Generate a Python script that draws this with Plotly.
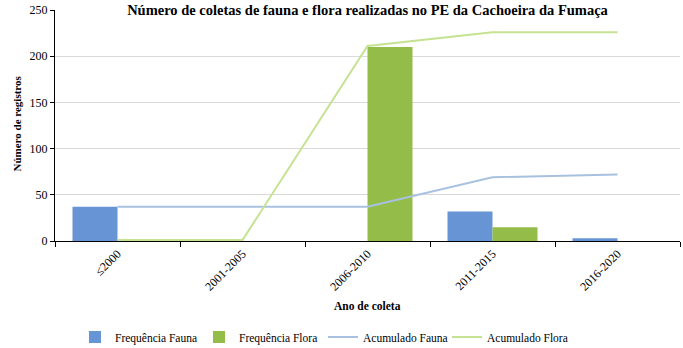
import plotly.graph_objects as go

categories = ["≤2000", "2001-2005", "2006-2010", "2011-2015", "2016-2020"]
freq_fauna = [37, 0, 0, 32, 3]
freq_flora = [1, 0, 210, 15, 0]
acum_fauna = [37, 37, 37, 69, 72]
acum_flora = [1, 1, 211, 226, 226]

FONT = "Liberation Serif, Times New Roman, serif"

fig = go.Figure()
fig.add_bar(x=categories, y=freq_fauna, name="Frequência Fauna", marker_color="#6794d4",
            marker_line_width=0)
fig.add_bar(x=categories, y=freq_flora, name="Frequência Flora", marker_color="#93bd48",
            marker_line_width=0)
fig.add_scatter(x=categories, y=acum_fauna, name="Acumulado Fauna", mode="lines",
                line=dict(color="#a9c1e0", width=2))
fig.add_scatter(x=categories, y=acum_flora, name="Acumulado Flora", mode="lines",
                line=dict(color="#c5e292", width=2))

fig.update_layout(
    width=683, height=348,
    margin=dict(l=55, r=3, t=10, b=107),
    plot_bgcolor="white", paper_bgcolor="white",
    barmode="group", bargap=0.28, bargroupgap=0,
    font=dict(family=FONT, size=12, color="black"),
    title=dict(text="<b>Número de coletas de fauna e flora realizadas no PE da Cachoeira da Fumaça</b>",
               x=0.5, xref="paper", xanchor="center", y=1 - 10 / 348, yref="container",
               yanchor="middle", font=dict(family=FONT, size=14.5, color="black")),
    legend=dict(orientation="h", x=(75 - 55) / 625, xanchor="left", xref="paper",
                y=1 - 337 / 348, yref="container", yanchor="middle",
                font=dict(family=FONT, size=11.5), traceorder="normal", entrywidth=79),
    showlegend=True,
)
fig.update_xaxes(
    type="category", showline=True, linecolor="black", linewidth=1,
    ticks="outside", tickson="boundaries", ticklen=5, tickcolor="black",
    tickangle=-45, showgrid=False, tickfont=dict(family=FONT, size=12), automargin=False,
)
fig.update_yaxes(
    range=[0, 250], dtick=50, showline=True, linecolor="black", linewidth=1,
    ticks="outside", ticklen=4, tickcolor="black",
    showgrid=True, gridcolor="#d9d9d9", gridwidth=1, zeroline=False,
    tickfont=dict(family=FONT, size=12), automargin=False,
)
fig.add_annotation(text="<b>Ano de coleta</b>", xref="paper", yref="paper", x=0.5, y=-(306 - 241) / 231,
                   showarrow=False, font=dict(family=FONT, size=11.5), yanchor="middle")
fig.add_annotation(text="<b>Número de registros</b>", xref="paper", yref="paper", x=-(55 - 17) / 625,
                   y=(241 - 123.5) / 231,
                   textangle=-90, showarrow=False, font=dict(family=FONT, size=11),
                   xanchor="center", yanchor="middle")

fig.write_html("out.html")
